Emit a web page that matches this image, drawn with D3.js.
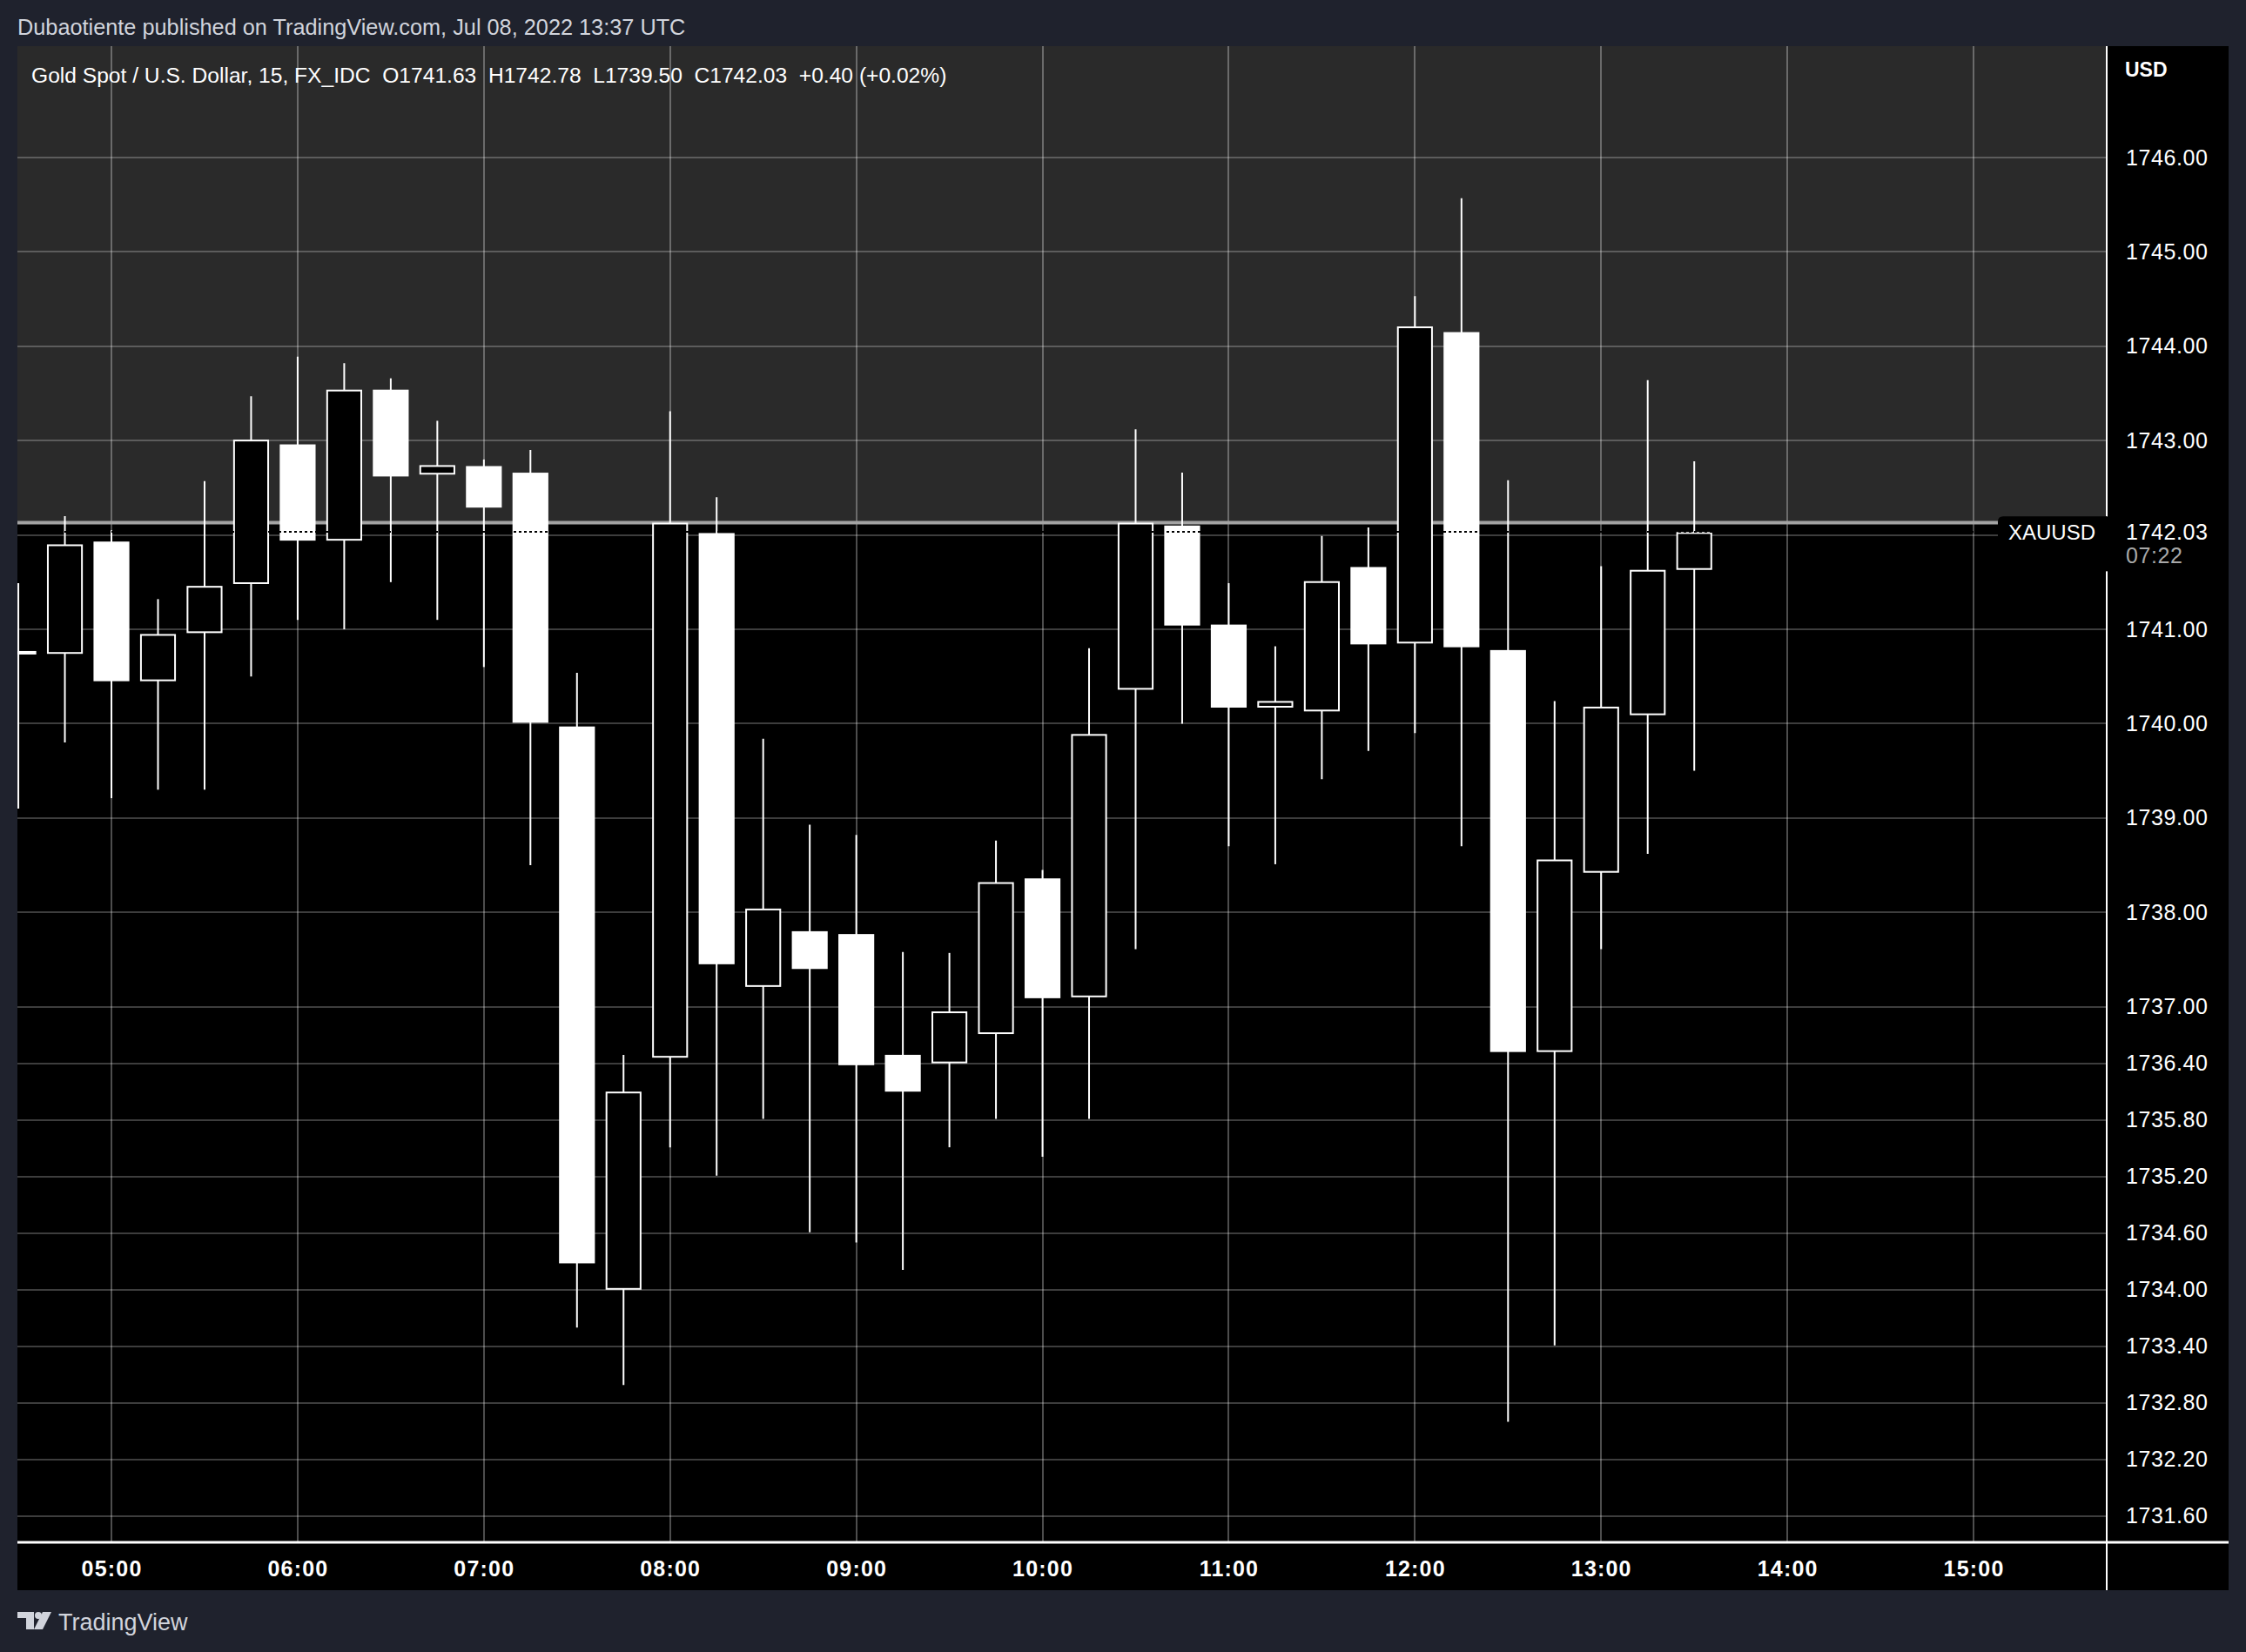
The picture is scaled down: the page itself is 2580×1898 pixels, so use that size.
<!DOCTYPE html>
<html><head><meta charset="utf-8">
<script src="https://cdn.jsdelivr.net/npm/d3@7"></script>
<style>
html,body{margin:0;padding:0;background:#1f222d;overflow:hidden;}
svg{display:block;}
</style></head><body>
<script>
// ---- data ----
const times = ["04:30","04:45","05:00","05:15","05:30","05:45","06:00","06:15","06:30","06:45",
  "07:00","07:15","07:30","07:45","08:00","08:15","08:30","08:45","09:00","09:15",
  "09:30","09:45","10:00","10:15","10:30","10:45","11:00","11:15","11:30","11:45",
  "12:00","12:15","12:30","12:45","13:00","13:15","13:30"];
const opens  = [1740.74,1740.74,1741.93,1740.45,1740.96,1741.48,1742.96,1741.94,1743.54,1742.64,
  1742.73,1742.66,1739.97,1734.00,1736.46,1742.02,1737.21,1737.80,1737.77,1736.49,
  1736.40,1736.71,1738.36,1737.10,1740.36,1742.10,1741.05,1740.17,1740.13,1741.66,
  1740.85,1744.15,1740.78,1736.52,1738.42,1740.09,1741.63];
const highs  = [1741.49,1742.20,1742.05,1741.32,1742.57,1743.47,1743.89,1743.82,1743.66,1743.21,
  1742.80,1742.90,1740.54,1736.49,1743.31,1742.40,1739.84,1738.93,1738.82,1737.58,
  1737.57,1738.76,1738.45,1740.80,1743.12,1742.66,1741.49,1740.82,1741.99,1742.08,
  1744.53,1745.57,1742.58,1740.24,1741.67,1743.64,1742.78];
const lows   = [1739.10,1739.80,1739.21,1739.30,1739.30,1740.50,1741.10,1741.00,1741.50,1741.10,
  1740.60,1738.50,1733.60,1732.99,1735.51,1735.21,1735.81,1734.61,1734.50,1734.21,
  1735.51,1735.81,1735.41,1735.81,1737.61,1740.00,1738.70,1738.51,1739.41,1739.71,
  1739.90,1738.70,1732.60,1733.41,1737.61,1738.62,1739.50];
const closes = [1740.77,1741.90,1740.45,1740.95,1741.46,1743.01,1741.94,1743.54,1742.62,1742.74,
  1742.29,1740.01,1734.28,1736.10,1742.13,1737.45,1738.04,1737.40,1736.38,1736.10,
  1736.95,1738.32,1737.09,1739.89,1742.13,1741.04,1740.17,1740.24,1741.51,1740.84,
  1744.21,1740.81,1736.52,1738.56,1740.18,1741.63,1742.03];
const gridPrices = [1746,1745,1744,1743,1742,1741,1740,1739,1738,1737,1736.4,1735.8,1735.2,1734.6,1734,1733.4,1732.8,1732.2,1731.6];
const priceLabels = [1746,1745,1744,1743,1741,1740,1739,1738,1737,1736.4,1735.8,1735.2,1734.6,1734,1733.4,1732.8,1732.2,1731.6];
const hourLabels = ["05:00","06:00","07:00","08:00","09:00","10:00","11:00","12:00","13:00","14:00","15:00"];
const lastPrice = 1742.03;
const zoneLevel = 1742.13;
const countdown = "07:22";
const symbol = "XAUUSD";
const headerText = "Dubaotiente published on TradingView.com, Jul 08, 2022 13:37 UTC";
const legendText = "Gold Spot / U.S. Dollar, 15, FX_IDC  O1741.63  H1742.78  L1739.50  C1742.03  +0.40 (+0.02%)";

// ---- layout ----
const W = 2580, H = 1898;
const L = 20, R = 2420, AX = 2560, T = 53, B = 1772, TB = 1827;
const FONT = "'Liberation Sans', Arial, sans-serif";
const toDate = s => { const [h,m] = s.split(":").map(Number); return new Date(Date.UTC(2022,6,8,h,m)); };

const x = d3.scaleUtc()
  .domain([new Date(Date.UTC(2022,6,8,4,29,42)), new Date(Date.UTC(2022,6,8,15,42,54))])
  .range([L, R]);
const y = d3.scaleLinear().domain([1731.323, 1747.181]).range([B, T]);

const candles = times.map((t,i)=>({t:toDate(t), o:opens[i], h:highs[i], l:lows[i], c:closes[i]}));

const svg = d3.select("body").append("svg").attr("width", W).attr("height", H);
svg.append("rect").attr("width", W).attr("height", H).attr("fill", "#1f222d");
svg.append("rect").attr("x", L).attr("y", T).attr("width", AX-L).attr("height", TB-T).attr("fill", "#000");

// upper gray zone
svg.append("rect").attr("x", L).attr("y", T).attr("width", R-L).attr("height", y(zoneLevel)-T).attr("fill", "#2a2a2a");

// gridlines
const grid = svg.append("g");
grid.selectAll("line.h").data(gridPrices).join("line")
  .attr("x1", L).attr("x2", R).attr("y1", d=>Math.round(y(d))).attr("y2", d=>Math.round(y(d)))
  .attr("stroke", "#fff").attr("stroke-opacity", 0.24).attr("stroke-width", 2);
grid.selectAll("line.v").data(hourLabels).join("line")
  .attr("x1", d=>Math.round(x(toDate(d)))).attr("x2", d=>Math.round(x(toDate(d))))
  .attr("y1", T).attr("y2", B)
  .attr("stroke", "#fff").attr("stroke-opacity", 0.3).attr("stroke-width", 2);

// zone border
svg.append("line").attr("x1", L).attr("x2", R).attr("y1", y(zoneLevel)).attr("y2", y(zoneLevel))
  .attr("stroke", "#a3a3a3").attr("stroke-width", 4);

// candles
svg.append("clipPath").attr("id","pane").append("rect").attr("x", L).attr("y", T).attr("width", R-L).attr("height", B-T);
const cg = svg.append("g").attr("clip-path", "url(#pane)");
const bw = (x(toDate("05:15")) - x(toDate("05:00"))) * 0.77;
cg.selectAll("line.wick").data(candles).join("line")
  .attr("x1", d=>x(d.t)).attr("x2", d=>x(d.t)).attr("y1", d=>y(d.h)).attr("y2", d=>y(d.l))
  .attr("stroke", "#fff").attr("stroke-width", 2);
cg.selectAll("rect.body").data(candles).join("rect")
  .attr("x", d => d.c >= d.o ? x(d.t)-bw/2+1 : x(d.t)-bw/2)
  .attr("width", d => d.c >= d.o ? bw-2 : bw)
  .attr("y", d => d.c >= d.o ? y(Math.max(d.o,d.c))+1 : y(Math.max(d.o,d.c)))
  .attr("height", d => { const h = Math.abs(y(d.o)-y(d.c)); return d.c >= d.o ? Math.max(h-2, 2) : Math.max(h, 2); })
  .attr("fill", d => d.c >= d.o ? "#000" : "#fff")
  .attr("stroke", d => d.c >= d.o ? "#fff" : "none")
  .attr("stroke-width", 2);

// last price dotted line
cg.append("line").attr("x1", L).attr("x2", R).attr("y1", Math.round(y(lastPrice))).attr("y2", Math.round(y(lastPrice)))
  .attr("stroke", "#000").attr("stroke-width", 2).attr("stroke-dasharray", "3,3");

// axis lines
svg.append("line").attr("x1", R).attr("x2", R).attr("y1", T).attr("y2", TB).attr("stroke", "#fff").attr("stroke-width", 2);
svg.append("line").attr("x1", L).attr("x2", AX).attr("y1", B).attr("y2", B).attr("stroke", "#fff").attr("stroke-width", 3);

// price axis
const yAxis = d3.axisRight(y).tickValues(priceLabels).tickFormat(d3.format(".2f")).tickSize(0).tickPadding(22);
const ya = svg.append("g").attr("transform", `translate(${R},0)`).call(yAxis);
ya.select(".domain").remove();
ya.selectAll("text").attr("fill", "#fff").attr("font-family", FONT).attr("font-size", 25).attr("letter-spacing", "0.6px");

// time axis
const xAxis = d3.axisBottom(x).tickValues(hourLabels.map(toDate)).tickFormat(d3.utcFormat("%H:%M")).tickSize(0).tickPadding(21);
const xa = svg.append("g").attr("transform", `translate(0,${B})`).call(xAxis);
xa.select(".domain").remove();
xa.selectAll("text").attr("fill", "#fff").attr("font-family", FONT).attr("font-size", 25).attr("font-weight", "bold").attr("letter-spacing", "1.2px");

// last price label on axis
const ly = y(lastPrice);
svg.append("rect").attr("x", R-1).attr("y", ly-18).attr("width", AX-R+1).attr("height", 63).attr("fill", "#000");
svg.append("text").attr("x", R+22).attr("y", ly).attr("dy", "0.35em").attr("fill", "#fff")
  .attr("font-family", FONT).attr("font-size", 25).attr("letter-spacing", "0.6px").text(d3.format(".2f")(lastPrice));
svg.append("text").attr("x", R+22).attr("y", ly+27).attr("dy", "0.35em").attr("fill", "#a8a8a8")
  .attr("font-family", FONT).attr("font-size", 25).attr("letter-spacing", "0.6px").text(countdown);
svg.append("path").attr("d", `M${R},${ly-18} H2301 Q2295,${ly-18} 2295,${ly-12} V${ly+17} H${R} Z`).attr("fill", "#000");
svg.append("text").attr("x", 2357).attr("y", ly).attr("dy", "0.35em").attr("text-anchor", "middle").attr("fill", "#fff")
  .attr("font-family", FONT).attr("font-size", 24).text(symbol);

// USD label
svg.append("text").attr("x", 2441).attr("y", 80).attr("dy", "0.35em").attr("fill", "#fff")
  .attr("font-family", FONT).attr("font-size", 23).attr("font-weight", "bold").text("USD");

// header & legend
svg.append("text").attr("x", 20).attr("y", 31).attr("dy", "0.35em").attr("fill", "#d1d4dc")
  .attr("font-family", FONT).attr("font-size", 25.3).text(headerText);
svg.append("text").attr("x", 36).attr("y", 86).attr("dy", "0.35em").attr("fill", "#fff")
  .style("white-space", "pre").attr("font-family", FONT).attr("font-size", 24.6).text(legendText);

// TradingView logo
const lg = svg.append("g").attr("transform", "translate(20,1852)").attr("fill", "#d1d4dc");
lg.append("path").attr("d", "M0,0 H19 V20 H10 V7 H0 Z");
lg.append("circle").attr("cx", 24).attr("cy", 4).attr("r", 4);
lg.append("path").attr("d", "M29,0 H39 L29,20 H19 Z");
svg.append("text").attr("x", 67).attr("y", 1864).attr("dy", "0.35em").attr("fill", "#d1d4dc")
  .attr("font-family", FONT).attr("font-size", 27).text("TradingView");
</script>
</body></html>
